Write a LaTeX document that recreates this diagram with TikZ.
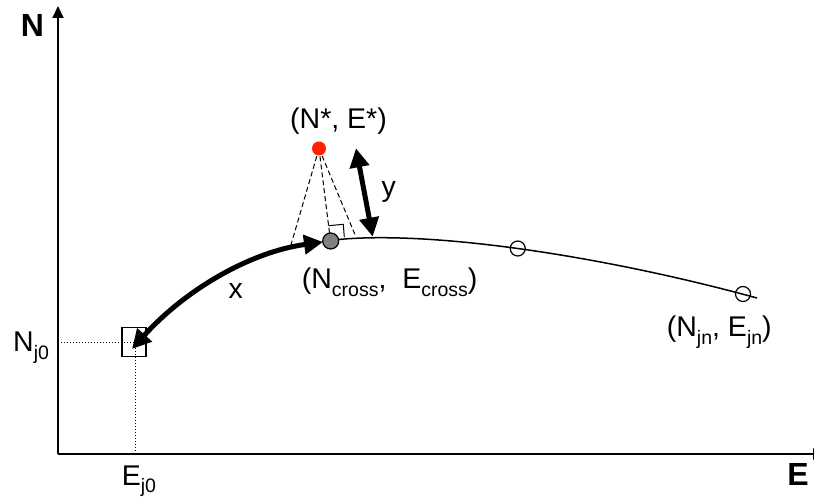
\documentclass[tikz,border=0pt]{standalone}
\usepackage{fontspec}
\setmainfont{Liberation Sans}
\usetikzlibrary{arrows.meta}
\newcommand\sbs[1]{\raisebox{-0.28em}{\fontsize{19.5}{22}\selectfont #1}}
\tikzset{
  lbl/.style={inner sep=0pt, anchor=base west, font=\fontsize{28.5}{32}\selectfont},
  axlbl/.style={inner sep=0pt, font=\fontsize{32}{36}\selectfont\bfseries},
  axis/.style={line width=2pt, -{Triangle[length=12pt,width=11pt]}},
  thick arrow/.style={line width=5pt, {Triangle[length=19pt,width=19pt]}-{Triangle[length=19pt,width=19pt]}},
  helper/.style={line width=1pt, dotted},
  dashline/.style={line width=1pt, dash pattern=on 5pt off 3pt},
  ring/.style={circle, draw, line width=1.2pt, minimum size=15pt, inner sep=0pt},
}
\begin{document}
\begin{tikzpicture}[x=1pt,y=-1pt]
\useasboundingbox (0,0) rectangle (814,497);
\begin{scope}
\clip (0,0) rectangle (814,497);
% axes
\coordinate (O) at (58,454);
\coordinate (ytop) at (58,6);
\coordinate (xend) at (825,454);
\draw[axis] (O) -- (ytop);
\draw[axis] (O) -- (xend);
\end{scope}
\node[axlbl] (Nlab) at (32.5,25) {N};
\node[axlbl] (Elab) at (798,474.5) {E};
% start point square
\node[draw, line width=1.2pt, minimum width=24pt, minimum height=29pt, inner sep=0pt] (sq) at (134,342) {};
\coordinate (ny) at (58,342);
\coordinate (ex) at (135,454);
\draw[helper] (ny) -- (135,342) coordinate (sqc);
\draw[helper] (sqc) -- (ex);
\node[lbl] (Nj0) at (13,351.7) {N\sbs{j0}};
\node[lbl] (Ej0) at (121.7,485) {E\sbs{j0}};
% curve
\coordinate (c0) at (325,241);
\coordinate (c3) at (757,298);
\draw[line width=1.5pt] (c0) .. controls (420,228) and (600,255) .. (c3);
\node[ring] (p1) at (517.75,248.5) {};
\node[ring] (p2) at (743,294) {};
% dashed lines from target
\coordinate (star) at (319,148.5);
\coordinate (dl) at (290,248.3);
\coordinate (dm) at (329.5,233);
\coordinate (dr) at (356,237);
\draw[dashline] (star) -- (dl);
\draw[dashline] (star) -- (dm);
\draw[dashline] (star) -- (dr);
\coordinate (ra1) at (328.3,225.7);
\coordinate (ra2) at (343.3,224.3);
\coordinate (ra3) at (344.3,237);
\draw[line width=1pt] (ra1) -- (ra2) -- (ra3);
% x arrow
\coordinate (xa0) at (132,349);
\coordinate (xa1) at (323,242);
\draw[thick arrow] (xa0) .. controls (185,290) and (250,252) .. (xa1);
% points
\node[circle, fill=gray, draw, line width=1.2pt, minimum size=16pt, inner sep=0pt] (cross) at (330.7,241) {};
\node[circle, fill={rgb,255:red,255;green,32;blue,0}, minimum size=14pt, inner sep=0pt] (target) at (star) {};
% y arrow
\coordinate (ya0) at (356,148.3);
\coordinate (ya1) at (372.7,236.7);
\draw[thick arrow] (ya0) -- (ya1);
% labels
\node[lbl] (starlab) at (290,128.3) {(N*, E*)};
\node[lbl] (ylab) at (381.5,196.7) {y};
\node[lbl] (xlab) at (228.3,298.3) {x};
\node[lbl] (crosslab) at (301.7,288.3) {(N\sbs{cross},\ \ E\sbs{cross})};
\node[lbl] (jnlab) at (666.7,336.7) {(N\sbs{jn}, E\sbs{jn})};
\end{tikzpicture}
\end{document}
